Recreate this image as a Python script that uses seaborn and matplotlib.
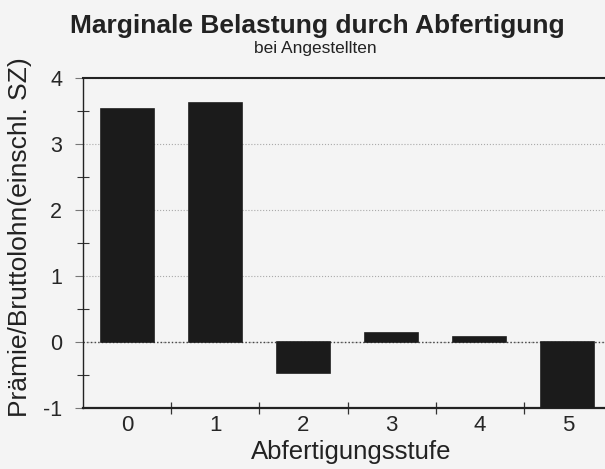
#!/usr/bin/env python3

import seaborn as sns
import pandas as pd
import numpy as np
import matplotlib.pyplot as plt
from matplotlib.ticker import FixedLocator, NullFormatter

# Werte
stufen = ['0', '1', '2', '3', '4', '5']
belastung = [3.53, 3.62, -0.47, 0.14, 0.07, -1.0]

titel = 'Marginale Belastung durch Abfertigung'
untertitel = 'bei Angestellten'
xlabel_name = 'Abfertigungsstufe'
ylabel_name = 'Prämie/Bruttolohn(einschl. SZ)'
y_ticks = [-1, 0, 1, 2, 3, 4]

sns.set_style('white')
plt.rcParams['font.family'] = ['Liberation Sans', 'DejaVu Sans']
plt.rcParams['text.color'] = '#222222'

df = pd.DataFrame({'stufe': stufen, 'wert': belastung})

fig = plt.figure(figsize=(6.05, 4.69), dpi=100, facecolor='#f4f4f4')
# axes reicht rechts etwas aus dem Bild hinaus (Scan ist beschnitten)
ax = fig.add_axes([83 / 605, 61 / 469, 529 / 605, 330 / 469])
ax.set_facecolor('#f4f4f4')

sns.barplot(data=df, x='stufe', y='wert', color='#1b1b1b', saturation=1,
            width=0.6, edgecolor='#1b1b1b', linewidth=1.2, ax=ax, zorder=3)

ax.set_xlim(-0.5, 5.5)
ax.set_ylim(-1, 4)
ax.set_xlabel('')
ax.set_ylabel('')

ax.set_yticks(y_ticks)
ax.set_yticklabels([str(t) for t in y_ticks], fontsize=15.5)
ax.yaxis.set_minor_locator(FixedLocator(np.arange(-0.5, 4, 1.0)))
ax.tick_params(axis='y', which='major', direction='out', length=6, width=0.8,
               color='#777777', pad=9, left=True)
ax.tick_params(axis='y', which='minor', direction='inout', length=8, width=0.8,
               color='#333333', left=True)

ax.set_xticks(range(len(stufen)))
ax.set_xticklabels(stufen, fontsize=16)
ax.xaxis.set_minor_locator(FixedLocator(np.arange(0.5, 6, 1.0)))
ax.xaxis.set_minor_formatter(NullFormatter())
ax.tick_params(axis='x', which='major', length=0, pad=5)
ax.tick_params(axis='x', which='minor', direction='inout', length=8, width=0.9,
               color='#333333', bottom=True)

# schwache punktierte Gitterlinien, Nulllinie deutlicher
ax.yaxis.grid(True, linestyle=':', color='#aaaaaa', linewidth=0.8)
ax.axhline(0, linestyle=':', color='#444444', linewidth=1.0, zorder=2)
ax.set_axisbelow(True)

for side in ['left', 'top', 'bottom', 'right']:
    ax.spines[side].set_color('#222222')
ax.spines['left'].set_linewidth(1.0)
ax.spines['top'].set_linewidth(1.5)
ax.spines['bottom'].set_linewidth(1.6)

fig.text(317 / 605, 1 - 26 / 469, titel, ha='center', va='center',
         fontsize=19, fontweight='bold')
fig.text(315 / 605, 1 - 49 / 469, untertitel, ha='center', va='center',
         fontsize=12.5)
fig.text(351 / 605, 1 - 452 / 469, xlabel_name, ha='center', va='center',
         fontsize=18.5)
fig.text(20 / 605, 1 - 237 / 469, ylabel_name, ha='center', va='center',
         rotation=90, fontsize=19)

fig.savefig('out.png', dpi=100, facecolor=fig.get_facecolor())
